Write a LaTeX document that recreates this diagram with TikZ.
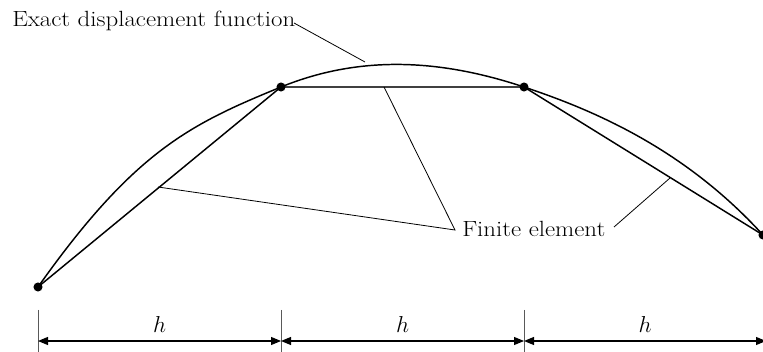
\documentclass[tikz,border=0pt]{standalone}
\usepackage{graphicx}
\usetikzlibrary{arrows.meta}
\newcommand{\widetext}[1]{\scalebox{1.13}[1]{#1}}
\begin{document}
\begin{tikzpicture}[x=0.75pt,y=-0.75pt,
  dotnode/.style={circle,fill=black,inner sep=0pt,minimum size=6.8pt},
  lbl/.style={font=\fontsize{16.5}{19}\selectfont,inner sep=0pt},
  elem/.style={line width=1.1pt},
  curve/.style={line width=1.1pt},
  leader/.style={line width=0.6pt},
  dim/.style={line width=0.8pt,{Triangle[length=7.5pt,width=6pt]}-{Triangle[length=7.5pt,width=6pt]}},
  ext/.style={line width=0.6pt,gray!70!black}]
\useasboundingbox (0,0) rectangle (763,352);
\coordinate (q0) at (38,287);
\coordinate (q1) at (281,87);
\coordinate (q2) at (524,87);
\coordinate (q3) at (763,235);
% exact curve
\draw[curve] (q0) .. controls (135,150) and (191,124) .. (q1)
  .. controls (362,54) and (443,60) .. (q2)
  .. controls (590,109) and (683,147) .. (q3);
% finite elements
\draw[elem] (q0) -- (q1);
\draw[elem,black!75] (q1) -- (q2);
\draw[elem] (q2) -- (q3);
\node[dotnode] (p0) at (q0) {};
\node[dotnode] (p1) at (q1) {};
\node[dotnode] (p2) at (q2) {};
\node[dotnode] (p3) at (q3) {};
% labels
\node[lbl,anchor=base west] (exact) at (12,27) {\widetext{Exact displacement function}};
\node[lbl,anchor=base west] (fe) at (462,237) {\widetext{Finite element}};
\coordinate (e0) at (294,23);
\coordinate (e1) at (365,62);
\coordinate (f1) at (384,87);
\coordinate (f2) at (158,187);
\coordinate (f3) at (670,178);
\coordinate (fl) at (455,230);
\coordinate (fr) at (614,227);
\draw[leader] (e0) -- (e1);
\draw[leader] (f1) -- (fl) -- (f2);
\draw[leader] (fr) -- (f3);
% dimensions
\coordinate (d0) at (38,310); \coordinate (d0b) at (38,352);
\coordinate (d1) at (281,310); \coordinate (d1b) at (281,352);
\coordinate (d2) at (524,310); \coordinate (d2b) at (524,352);
\draw[ext] (d0) -- (d0b);
\draw[ext] (d1) -- (d1b);
\draw[ext] (d2) -- (d2b);
\coordinate (a0) at (38,341); \coordinate (a1) at (281,341);
\coordinate (a2) at (524,341); \coordinate (a3) at (766,341);
\draw[dim] (a0) -- node[lbl,above=6pt] (h1) {$h$} (a1);
\draw[dim] (a1) -- node[lbl,above=6pt] (h2) {$h$} (a2);
\draw[dim] (a2) -- node[lbl,above=6pt] (h3) {$h$} (a3);
\end{tikzpicture}
\end{document}
